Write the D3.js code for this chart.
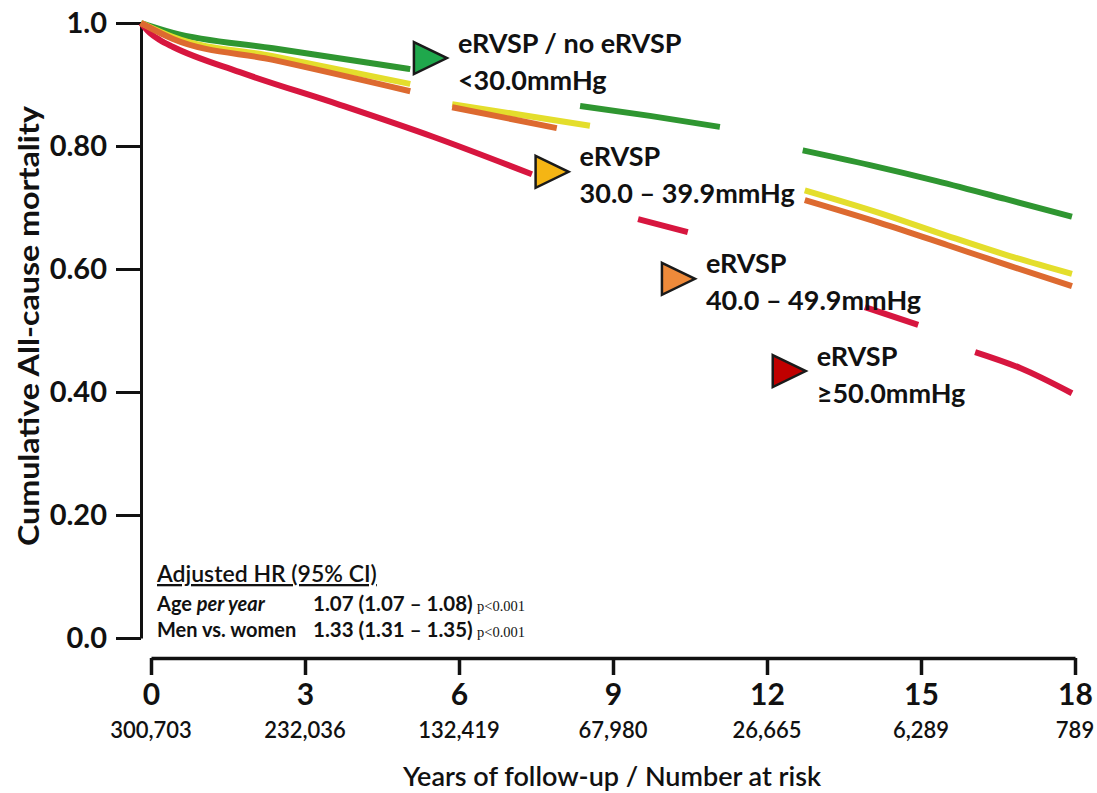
<!DOCTYPE html>
<html>
<head>
<meta charset="utf-8">
<script src="https://cdn.jsdelivr.net/npm/d3@7"></script>
<style>
  body { margin: 0; background: #fff; }
  text { font-family: Lato, "Open Sans", sans-serif; fill: #111; }
</style>
</head>
<body>
<div id="chart"></div>
<script>
// ---- data ----
const groupNames = ["lt30", "30to39", "40to49", "ge50"];

// years of follow-up / cumulative value (null = hidden under a label)
const tGreen  = [0, 0.62, 2.55, 5.20, 6.5, 8.48, 9.83, 11.18, 12.0, 12.78, 14.08, 15.37, 16.69, 17.98];
const vGreen  = [1.0, 0.984, 0.959, 0.925, null, 0.865, 0.849, 0.831, null, 0.793, 0.769, 0.743, 0.714, 0.685];

const tYellow = [0, 0.62, 2.55, 5.20, 5.6, 6.01, 8.67, 10.5, 12.82, 14.27, 15.57, 16.78, 17.98];
const vYellow = [1.0, 0.977, 0.946, 0.901, null, 0.868, 0.833, null, 0.728, 0.691, 0.654, 0.621, 0.592];

const tOrange = [0, 0.62, 2.55, 5.20, 5.6, 6.01, 8.03, 10.5, 12.82, 14.27, 15.57, 16.78, 17.98];
const vOrange = [1.0, 0.974, 0.940, 0.889, null, 0.863, 0.829, null, 0.712, 0.675, 0.639, 0.605, 0.572];

const tRed = [0, 0.17, 0.37, 0.62, 1.91, 3.84, 5.64, 7.55, 8.5, 9.60, 10.56, 12.0, 13.98, 15.01, 15.5, 16.11, 16.98, 17.98];
const vRed = [1.0, 0.984, 0.972, 0.961, 0.920, 0.867, 0.815, 0.754, null, 0.681, 0.660, null, 0.538, 0.509, null, 0.465, 0.439, 0.398];

const yTickValues = [0, 0.2, 0.4, 0.6, 0.8, 1.0];
const yTickLabels = ["0.0", "0.20", "0.40", "0.60", "0.80", "1.0"];
const xTickValues = [0, 3, 6, 9, 12, 15, 18];
const atRisk = ["300,703", "232,036", "132,419", "67,980", "26,665", "6,289", "789"];

// label texts + where the pointer triangle sits (in data units)
const labelTop = ["eRVSP / no eRVSP", "eRVSP", "eRVSP", "eRVSP"];
const labelBottom = ["<30.0mmHg", "30.0 \u2013 39.9mmHg", "40.0 \u2013 49.9mmHg", "\u226550.0mmHg"];
const labelT = [5.58, 7.93, 10.37, 12.51];
const labelV = [0.943, 0.758, 0.584, 0.434];

const hrRows = [
  ["Age ", "per year", "1.07 (1.07 \u2013 1.08)", "p<0.001"],
  ["Men vs. women", "", "1.33 (1.31 \u2013 1.35)", "p<0.001"]
];

// ---- drawing ----
const w = 1097, h = 793;
const lineColors = ["#2f9631", "#e4de2c", "#dd6a30", "#d7163f"];
const triColors = ["#1fa84c", "#f5b514", "#ee8a3a", "#c00000"];

const svg = d3.select("#chart").append("svg")
    .attr("width", w).attr("height", h);
svg.append("rect").attr("width", w).attr("height", h).attr("fill", "#fff");

const y = d3.scaleLinear().domain([0, 1]).range([638, 23]);
const xLine = d3.scaleLinear().domain([0, 18]).range([141, 1073]);
const xAxisScale = d3.scaleLinear().domain([0, 18]).range([151, 1075]);

/* Y AXIS */
const yAxis = d3.axisLeft(y)
    .tickValues(yTickValues)
    .tickFormat((d, i) => yTickLabels[i])
    .tickSize(25)
    .tickSizeOuter(0)
    .tickPadding(9);

const gy = svg.append("g")
    .attr("transform", "translate(141,0)")
    .call(yAxis);
gy.select(".domain").attr("stroke", "#111").attr("stroke-width", 3);
gy.selectAll(".tick line").attr("stroke", "#111").attr("stroke-width", 3);
gy.selectAll(".tick text")
    .style("font-family", "Lato, sans-serif")
    .style("font-weight", "bold")
    .style("font-size", "29px")
    .attr("fill", "#111");

/* X AXIS */
const xAxis = d3.axisBottom(xAxisScale)
    .tickValues(xTickValues)
    .tickSize(17)
    .tickSizeOuter(0)
    .tickPadding(9);

const gx = svg.append("g")
    .attr("transform", "translate(0,658)")
    .call(xAxis);
gx.select(".domain").attr("stroke", "#111").attr("stroke-width", 3.5);
gx.selectAll(".tick line").attr("stroke", "#111").attr("stroke-width", 3.5);
gx.selectAll(".tick text")
    .style("font-family", "Lato, sans-serif")
    .style("font-weight", "bold")
    .style("font-size", "30px")
    .attr("fill", "#111");

// number at risk under each tick
svg.selectAll(".risk")
    .data(xTickValues)
    .enter()
    .append("text")
    .attr("class", "risk")
    .attr("x", d => xAxisScale(d))
    .attr("y", 738)
    .attr("text-anchor", "middle")
    .style("font-size", "22px")
    .style("font-weight", "600")
    .text((d, i) => atRisk[i]);

/* AXIS TITLES */
svg.append("text")
    .attr("transform", "translate(28,326) rotate(-90)")
    .attr("text-anchor", "middle")
    .attr("dominant-baseline", "central")
    .attr("textLength", 440)
    .attr("lengthAdjust", "spacingAndGlyphs")
    .style("font-size", "28px")
    .style("font-weight", "bold")
    .text("Cumulative All-cause mortality");

svg.append("text")
    .attr("x", 612)
    .attr("y", 786)
    .attr("text-anchor", "middle")
    .style("font-size", "27px")
    .style("font-weight", "600")
    .text("Years of follow-up / Number at risk");

/* LINES */
const line = d3.line()
    .defined(d => d[1] !== null)
    .x(d => xLine(d[0]))
    .y(d => y(d[1]))
    .curve(d3.curveMonotoneX);

const series = [
  d3.zip(tGreen, vGreen),
  d3.zip(tYellow, vYellow),
  d3.zip(tOrange, vOrange),
  d3.zip(tRed, vRed)
];

// draw red first so the others sit on top like the original
[3, 0, 1, 2].forEach(function(i) {
  svg.append("path")
      .datum(series[i])
      .attr("class", "km " + groupNames[i])
      .attr("fill", "none")
      .attr("stroke", lineColors[i])
      .attr("stroke-width", 6)
      .attr("stroke-linejoin", "round")
      .attr("d", line);
});

/* GROUP LABELS */
const labels = svg.selectAll(".grp")
    .data(labelT)
    .enter()
    .append("g")
    .attr("class", "grp")
    .attr("transform", (d, i) => "translate(" + xLine(d) + "," + y(labelV[i]) + ")");

labels.append("path")
    .attr("d", "M-16,-16L17,0L-16,16Z")
    .attr("fill", (d, i) => triColors[i])
    .attr("stroke", "#1a1a1a")
    .attr("stroke-width", 2.5)
    .attr("stroke-linejoin", "miter");

labels.append("text")
    .attr("x", 28)
    .attr("y", -16)
    .attr("dominant-baseline", "central")
    .style("font-size", "27px")
    .style("font-weight", "bold")
    .text((d, i) => labelTop[i]);

labels.append("text")
    .attr("x", 28)
    .attr("y", 21)
    .attr("dominant-baseline", "central")
    .style("font-size", "27px")
    .style("font-weight", "bold")
    .text((d, i) => labelBottom[i]);

/* HR BOX */
svg.append("text")
    .attr("x", 157)
    .attr("y", 582)
    .style("font-size", "23px")
    .style("font-weight", "600")
    .style("text-decoration", "underline")
    .text("Adjusted HR (95% CI)");

hrRows.forEach(function(r, i) {
  const yy = 611 + i * 26;
  const t = svg.append("text")
      .attr("x", 157)
      .attr("y", yy)
      .style("font-size", "20px")
      .style("font-weight", "bold");
  t.append("tspan").text(r[0]);
  if (r[1]) t.append("tspan").style("font-style", "italic").text(r[1]);

  svg.append("text")
      .attr("x", 313)
      .attr("y", yy)
      .style("font-size", "20.5px")
      .style("font-weight", "bold")
      .text(r[2]);

  svg.append("text")
      .attr("x", 477)
      .attr("y", yy)
      .style("font-size", "14.5px")
      .style("font-family", "'Liberation Serif', serif")
      .text(r[3]);
});
</script>
</body>
</html>
